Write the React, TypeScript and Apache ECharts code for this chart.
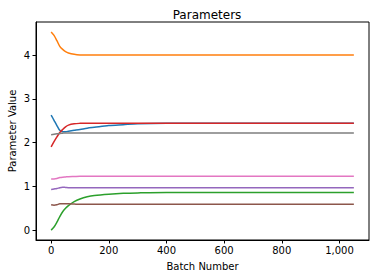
import React, { useEffect, useRef } from "react";
import * as echarts from "echarts";

const batches = [0, 10, 20, 30, 40, 50, 60, 80, 100, 125, 150, 200, 250, 300, 400, 500, 600, 800, 1050];

const blue = [2.63, 2.51, 2.39, 2.28, 2.25, 2.25, 2.26, 2.28, 2.3, 2.33, 2.35, 2.39, 2.41, 2.43, 2.44, 2.44, 2.44, 2.44, 2.44];
const orange = [4.53, 4.45, 4.33, 4.2, 4.13, 4.08, 4.05, 4.02, 4.005, 4.0, 4.0, 4.0, 4.0, 4.0, 4.0, 4.0, 4.0, 4.0, 4.0];
const green = [0.0, 0.07, 0.18, 0.31, 0.42, 0.5, 0.56, 0.65, 0.71, 0.76, 0.79, 0.82, 0.84, 0.85, 0.86, 0.86, 0.86, 0.86, 0.86];
const red = [1.9, 2.02, 2.13, 2.23, 2.3, 2.36, 2.4, 2.43, 2.44, 2.445, 2.445, 2.445, 2.445, 2.445, 2.445, 2.445, 2.445, 2.445, 2.445];
const purple = [0.93, 0.94, 0.95, 0.97, 0.98, 0.975, 0.97, 0.97, 0.97, 0.97, 0.97, 0.97, 0.97, 0.97, 0.97, 0.97, 0.97, 0.97, 0.97];
const brown = [0.58, 0.57, 0.58, 0.6, 0.6, 0.6, 0.6, 0.595, 0.59, 0.59, 0.59, 0.59, 0.59, 0.59, 0.59, 0.59, 0.59, 0.59, 0.59];
const pink = [1.17, 1.17, 1.18, 1.2, 1.21, 1.215, 1.22, 1.225, 1.23, 1.23, 1.23, 1.23, 1.23, 1.23, 1.23, 1.23, 1.23, 1.23, 1.23];
const gray = [2.18, 2.19, 2.2, 2.21, 2.215, 2.22, 2.22, 2.22, 2.22, 2.22, 2.22, 2.22, 2.22, 2.22, 2.22, 2.22, 2.22, 2.22, 2.22];

const xTicks = [0, 200, 400, 600, 800, 1000];
const yTicks = [0, 1, 2, 3, 4];

const seriesList = [
  { name: "p0", values: blue, color: "#1f77b4" },
  { name: "p1", values: orange, color: "#ff7f0e" },
  { name: "p2", values: green, color: "#2ca02c" },
  { name: "p3", values: red, color: "#d62728" },
  { name: "p4", values: purple, color: "#9467bd" },
  { name: "p5", values: brown, color: "#8c564b" },
  { name: "p6", values: pink, color: "#e377c2" },
  { name: "p7", values: gray, color: "#7f7f7f" },
];

const FONT = "DejaVu Sans";

export default function App() {
  const ref = useRef<HTMLDivElement>(null);
  useEffect(() => {
    if (!ref.current) return;
    const chart = echarts.init(ref.current, undefined, { renderer: "svg" });
    chart.setOption({
      animation: false,
      title: {
        text: "Parameters",
        left: 202,
        textAlign: "center",
        top: 4,
        textStyle: { fontFamily: FONT, fontSize: 12, fontWeight: "normal", color: "#000" },
      },
      grid: {
        left: 36,
        right: 7,
        top: 22,
        bottom: 38,
        containLabel: false,
        outerBoundsMode: "none",
        show: true,
        borderColor: "#000",
        borderWidth: 1,
        backgroundColor: "transparent",
      },
      xAxis: {
        type: "value",
        min: -52.5,
        max: 1102.5,
        name: "Batch Number",
        nameLocation: "middle",
        nameGap: 21,
        nameMoveOverlap: false,
        nameTextStyle: { fontFamily: FONT, fontSize: 10, color: "#000" },
        axisLine: { show: true, onZero: false, lineStyle: { color: "#000" } },
        axisTick: { show: true, length: 3.5, customValues: xTicks, lineStyle: { color: "#000" } },
        axisLabel: { customValues: xTicks, fontFamily: FONT, fontSize: 10, color: "#000", margin: 5 },
        splitLine: { show: false },
      },
      yAxis: {
        type: "value",
        min: -0.2265,
        max: 4.7565,
        name: "Parameter Value",
        nameLocation: "middle",
        nameGap: 19,
        nameRotate: 90,
        nameMoveOverlap: false,
        nameTextStyle: { fontFamily: FONT, fontSize: 10, color: "#000" },
        axisLine: { show: true, onZero: false, lineStyle: { color: "#000" } },
        axisTick: { show: true, length: 3.5, customValues: yTicks, lineStyle: { color: "#000" } },
        axisLabel: { customValues: yTicks, fontFamily: FONT, fontSize: 10, color: "#000", margin: 6 },
        splitLine: { show: false },
      },
      series: seriesList.map((s) => ({
        name: s.name,
        type: "line",
        data: batches.map((b, i) => [b, s.values[i]]),
        showSymbol: false,
        smooth: 0.3,
        lineStyle: { color: s.color, width: 1.5 },
        itemStyle: { color: s.color },
      })),
    });
    return () => chart.dispose();
  }, []);
  return <div ref={ref} style={{ width: 376, height: 278, position: "absolute", left: 0, top: 0 }} />;
}
